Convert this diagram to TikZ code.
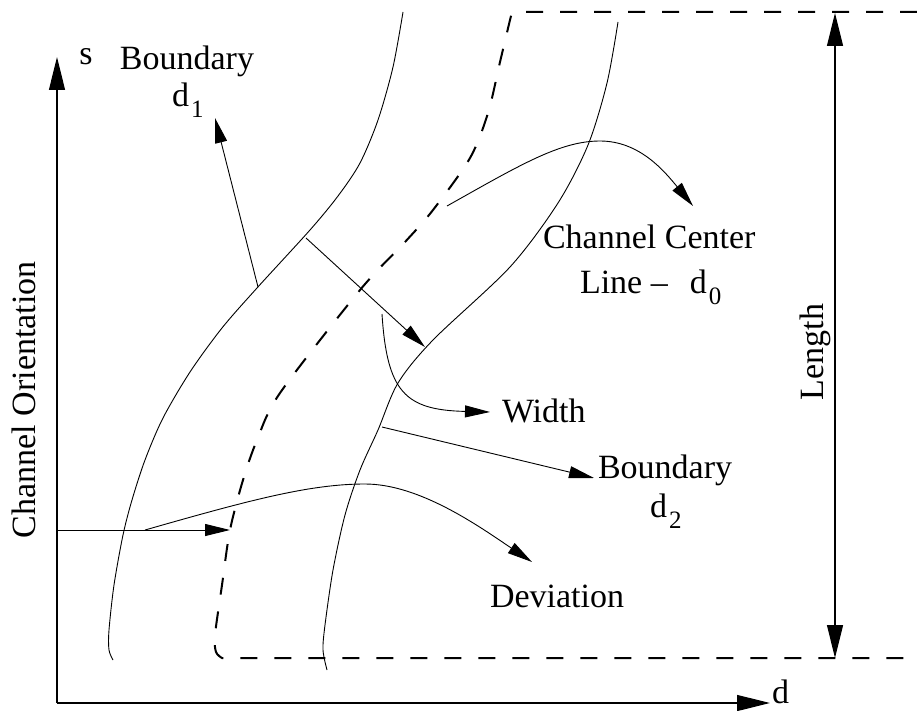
\documentclass[tikz,border=0pt]{standalone}
\usepackage{fontspec}
\setmainfont{Liberation Serif}
\usetikzlibrary{arrows.meta}
\newcommand\lowsub[1]{\kern2pt\raisebox{-11pt}{\fontsize{25}{25}\selectfont #1}}
\begin{document}
\begin{tikzpicture}[x=1pt,y=-1pt,
  every node/.style={inner sep=0pt,outer sep=0pt,font=\fontsize{34}{38}\selectfont},
  curve/.style={line width=0.9pt},
  centerline/.style={line width=2pt,dash pattern=on 17pt off 17pt},
  axis/.style={line width=1.2pt,-{Triangle[length=33pt,width=16pt]}},
  span/.style={line width=1.2pt,{Triangle[length=33pt,width=16pt]}-{Triangle[length=33pt,width=16pt]}},
  pointer/.style={line width=0.9pt,-{Triangle[length=25pt,width=12pt]}}]
\useasboundingbox (0,0) rectangle (917,711);

% axes
\coordinate (origin) at (57,703);
\coordinate (stip) at (57,57);
\coordinate (dtip) at (770,703);
\draw[axis] (origin) -- (stip);
\draw[axis] (origin) -- (dtip);
\node[anchor=base] (slabel) at (86,65) {s};
\node[anchor=base west] (dlabel) at (772,703) {d};
\node[anchor=base west,rotate=90] (orient) at (35,538) {Channel Orientation};

% channel boundaries
\draw[curve] plot[smooth,tension=0.5] coordinates {(403,12) (393,67) (378,120) (360,163) (338,196) (310,230) (257,288) (222,328) (190,372) (163,418) (145,460) (132,500) (123,535) (114,585) (109,630) (109,650) (113,660)};
\draw[curve] plot[smooth,tension=0.5] coordinates {(618,22) (607,83) (588,145) (558,203) (510,267) (433,340) (398,383) (378,430) (360,470) (345,515) (333,570) (325,625) (323,650) (327,670)};

% channel center line with its limits
\draw[centerline] (917,12) -- (518,12) -- plot[smooth,tension=0.5] coordinates {(512,13) (510,20) (500,62) (488,113) (470,158) (433,210) (405,242) (360,290) (280,393) (257,440) (243,480) (230,530) (222,585) (215,635) (216,652) (222,658)} -- (917,658);

% length of the channel
\coordinate (ltop) at (835,13);
\coordinate (lbot) at (835,658);
\draw[span] (ltop) -- (lbot);
\node[anchor=base west,rotate=90] (length) at (823,400) {Length};

% boundary d1
\node[anchor=base] (b1) at (187,70) {Boundary};
\node[anchor=base west] (b1d) at (172,107) {d\lowsub{1}};
\coordinate (b1from) at (258,287);
\coordinate (b1to) at (215,118);
\draw[pointer] (b1from) -- (b1to);

% width across the channel
\coordinate (wfrom) at (306,238);
\coordinate (wto) at (425,347);
\draw[pointer] (wfrom) -- (wto);
\node[anchor=base west] (width) at (502,422) {Width};
\coordinate (wlabfrom) at (382,314);
\coordinate (wlabto) at (490,412);
\draw[pointer] (wlabfrom) .. controls (387,392) and (405,410) .. (wlabto);

% center line label
\node[anchor=base west] (cc1) at (543,248) {Channel Center};
\node[anchor=base west] (cc2) at (580,293) {Line --\hspace{22pt}d\lowsub{0}};
\coordinate (ccfrom) at (447,206);
\coordinate (ccpeak) at (600,141);
\coordinate (ccto) at (693,206);
\draw[pointer] (ccfrom) .. controls (520,165) and (560,141) .. (ccpeak) .. controls (640,141) and (665,172) .. (ccto);

% boundary d2
\node[anchor=base west] (b2) at (598,478) {Boundary};
\node[anchor=base west] (b2d) at (650,517) {d\lowsub{2}};
\coordinate (b2from) at (382,427);
\coordinate (b2to) at (594,478);
\draw[pointer] (b2from) -- (b2to);

% deviation from the axis
\coordinate (devaxis) at (57,530);
\coordinate (devcl) at (230,530);
\draw[pointer] (devaxis) -- (devcl);
\coordinate (devfrom) at (145,530);
\coordinate (devpeak) at (365,484);
\coordinate (devto) at (532,562);
\draw[pointer] (devfrom) .. controls (250,500) and (310,484) .. (devpeak) .. controls (420,484) and (480,527) .. (devto);
\node[anchor=base west] (dev) at (490,607) {Deviation};
\end{tikzpicture}
\end{document}
